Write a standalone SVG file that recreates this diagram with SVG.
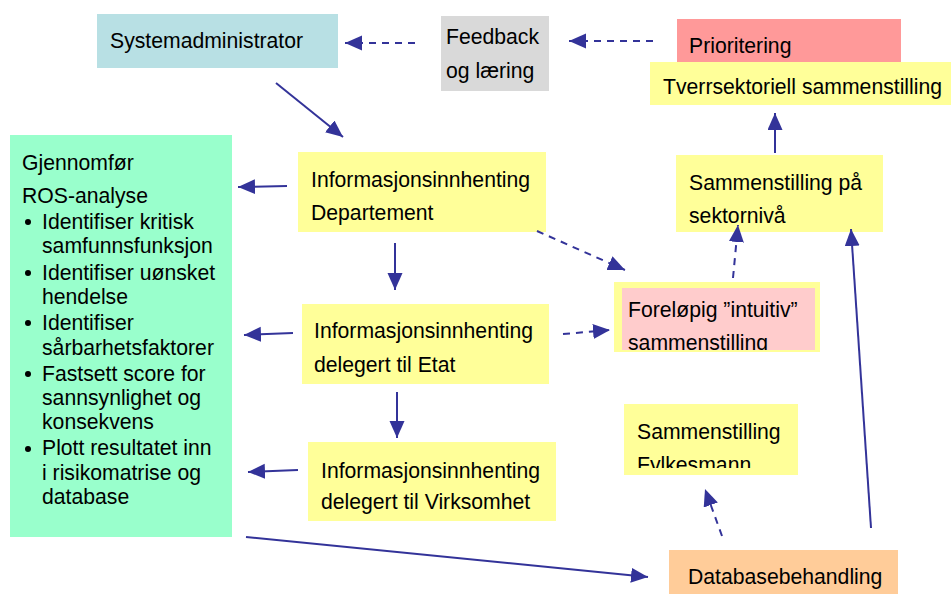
<svg xmlns="http://www.w3.org/2000/svg" width="951" height="594" viewBox="0 0 951 594">
<style>
text{font-family:"Liberation Sans",Arial,sans-serif;font-size:21.2px;fill:#000}
.c{stroke:#333399;stroke-width:2;fill:none}
.d{stroke-dasharray:7,6}
</style>
<defs>
<marker id="ah" markerUnits="userSpaceOnUse" markerWidth="19" markerHeight="17" refX="17" refY="7.5" orient="auto">
<path d="M0,0 L17,7.5 L0,15 z" fill="#333399"/>
</marker>
<clipPath id="clipT"><rect x="650" y="62" width="301" height="37"/></clipPath>
<clipPath id="clipF"><rect x="622" y="288" width="193" height="62"/></clipPath>
<clipPath id="clipY"><rect x="624" y="404" width="174" height="64"/></clipPath>
</defs>
<rect width="951" height="594" fill="#fff"/>
<g id="systemadministrator">
<rect x="97" y="14" width="241" height="54" fill="#b8e0e4"/>
<text x="110" y="48">Systemadministrator</text>
</g>
<g id="feedback">
<rect x="441" y="16" width="108" height="75" fill="#d9d9d9"/>
<text x="446" y="44">Feedback</text>
<text x="446" y="78">og læring</text>
</g>
<g id="prioritering">
<rect x="677" y="19" width="224" height="43" fill="#ff9999"/>
<text x="689" y="53">Prioritering</text>
</g>
<g id="tverrsektoriell">
<rect x="650" y="62" width="301" height="43" fill="#ffff99"/>
<text x="663" y="94" clip-path="url(#clipT)">Tverrsektoriell sammenstilling</text>
</g>
<g id="ros">
<rect x="10" y="135" width="222" height="402" fill="#99ffcc"/>
<text x="22" y="170">Gjennomfør</text>
<text x="22" y="203">ROS-analyse</text>
<g fill="#000">
<circle cx="28" cy="222" r="3"/>
<circle cx="28" cy="273" r="3"/>
<circle cx="28" cy="323" r="3"/>
<circle cx="28" cy="374" r="3"/>
<circle cx="28" cy="449" r="3"/>
</g>
<text x="42" y="229">Identifiser kritisk</text>
<text x="42" y="253">samfunnsfunksjon</text>
<text x="42" y="280">Identifiser uønsket</text>
<text x="42" y="304">hendelse</text>
<text x="42" y="330">Identifiser</text>
<text x="42" y="355">sårbarhetsfaktorer</text>
<text x="42" y="381">Fastsett score for</text>
<text x="42" y="405">sannsynlighet og</text>
<text x="42" y="429">konsekvens</text>
<text x="42" y="455">Plott resultatet inn</text>
<text x="42" y="480">i risikomatrise og</text>
<text x="42" y="504">database</text>
</g>
<g id="departement">
<rect x="298" y="152" width="248" height="80" fill="#ffff99"/>
<text x="311" y="187">Informasjonsinnhenting</text>
<text x="311" y="220">Departement</text>
</g>
<g id="etat">
<rect x="302" y="304" width="247" height="80" fill="#ffff99"/>
<text x="314" y="338">Informasjonsinnhenting</text>
<text x="314" y="372">delegert til Etat</text>
</g>
<g id="virksomhet">
<rect x="308" y="442" width="248" height="79" fill="#ffff99"/>
<text x="321" y="478">Informasjonsinnhenting</text>
<text x="321" y="509">delegert til Virksomhet</text>
</g>
<g id="forelopig">
<rect x="614" y="282" width="206" height="70" fill="#ffff99"/>
<rect x="622" y="288" width="193" height="62" fill="#ffcccc"/>
<g clip-path="url(#clipF)">
<text x="628" y="317">Foreløpig ”intuitiv”</text>
<text x="628" y="350">sammenstilling</text>
</g>
</g>
<g id="sektorniva">
<rect x="676" y="155" width="207" height="77" fill="#ffff99"/>
<text x="689" y="190">Sammenstilling på</text>
<text x="689" y="223">sektornivå</text>
</g>
<g id="fylkesmann">
<rect x="624" y="404" width="174" height="71" fill="#ffff99"/>
<text x="637" y="439">Sammenstilling</text>
<text x="637" y="472" clip-path="url(#clipY)">Fylkesmann</text>
</g>
<g id="database">
<rect x="669" y="550" width="229" height="44" fill="#ffcc99"/>
<text x="688" y="584">Databasebehandling</text>
</g>
<g id="connectors">
<line class="c d" x1="415" y1="43" x2="345" y2="43" marker-end="url(#ah)"/>
<line class="c d" x1="653" y1="41" x2="569" y2="41" marker-end="url(#ah)"/>
<line class="c" x1="276" y1="83" x2="343" y2="137" marker-end="url(#ah)"/>
<line class="c" x1="287" y1="186" x2="238" y2="187" marker-end="url(#ah)"/>
<line class="c" x1="293" y1="333" x2="244" y2="335" marker-end="url(#ah)"/>
<line class="c" x1="298" y1="470" x2="248" y2="472" marker-end="url(#ah)"/>
<line class="c" x1="395" y1="243" x2="395" y2="290" marker-end="url(#ah)"/>
<line class="c" x1="397" y1="392" x2="397" y2="438" marker-end="url(#ah)"/>
<line class="c d" x1="537" y1="231" x2="625" y2="270" marker-end="url(#ah)"/>
<line class="c d" x1="563" y1="334" x2="610" y2="330" marker-end="url(#ah)"/>
<line class="c d" x1="733" y1="278" x2="738" y2="225" marker-end="url(#ah)"/>
<line class="c" x1="775" y1="153" x2="775" y2="113" marker-end="url(#ah)"/>
<line class="c" x1="871" y1="528" x2="851" y2="229" marker-end="url(#ah)"/>
<line class="c d" x1="722" y1="536" x2="705" y2="489" marker-end="url(#ah)"/>
<line class="c" x1="246" y1="537" x2="648" y2="577" marker-end="url(#ah)"/>
</g>
</svg>
